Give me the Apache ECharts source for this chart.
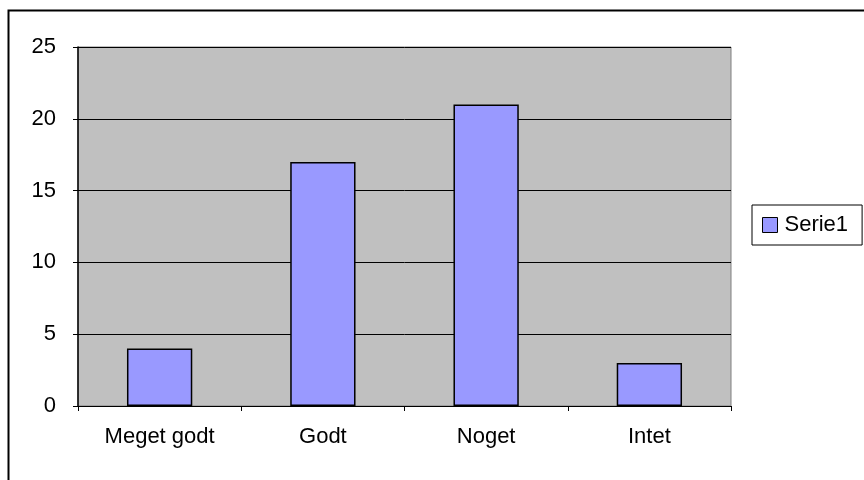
<!DOCTYPE html>
<html>
<head>
<meta charset="utf-8">
<script src="https://cdn.jsdelivr.net/npm/echarts@6/dist/echarts.min.js"></script>
<style>html,body{margin:0;padding:0;background:#fff}#c{width:864px;height:480px}</style>
</head>
<body>
<div id="c"></div>
<script>
const categories = ['Meget godt', 'Godt', 'Noget', 'Intet'];
const serieName = 'Serie1';
const serie1 = [4, 17, 21, 3];
const yTicks = [0, 5, 10, 15, 20, 25];

const chart = echarts.init(document.getElementById('c'));
const font = 'Liberation Sans, Arial, sans-serif';
chart.setOption({
  animation: false,
  backgroundColor: '#ffffff',
  textStyle: { fontFamily: font },
  graphic: [{
    type: 'rect', left: 6, top: 8, z: 100,
    shape: { x: 0, y: 0, width: 900, height: 500 },
    style: { fill: 'none', stroke: '#000', lineWidth: 2 }
  }],
  grid: {
    left: 78, top: 47, right: 133, bottom: 74,
    show: true, backgroundColor: '#c0c0c0', borderColor: '#808080', borderWidth: 1
  },
  legend: {
    data: [serieName],
    left: 752, top: 205,
    orient: 'vertical',
    borderColor: '#000', borderWidth: 1,
    padding: [9, 14, 9, 10],
    itemWidth: 15, itemHeight: 15, itemGap: 0,
    icon: 'rect',
    textStyle: { fontFamily: font, fontSize: 22, color: '#000', padding: [0, 0, 0, 2] },
    itemStyle: { borderColor: '#000', borderWidth: 1 }
  },
  xAxis: {
    type: 'category',
    data: categories,
    axisLine: { lineStyle: { color: '#000', width: 1 } },
    axisTick: { show: true, length: 5, alignWithLabel: false, lineStyle: { color: '#000' } },
    axisLabel: { color: '#000', fontSize: 22, fontFamily: font, margin: 20 },
    splitLine: { show: false }
  },
  yAxis: {
    type: 'value',
    min: yTicks[0], max: yTicks[yTicks.length - 1], interval: 5,
    axisLine: { show: true, lineStyle: { color: '#000', width: 1.5 } },
    axisTick: { show: true, length: 5, lineStyle: { color: '#000' } },
    axisLabel: { color: '#000', fontSize: 22, fontFamily: font, margin: 22 },
    splitLine: { show: true, lineStyle: { color: '#000', width: 1 } }
  },
  series: [{
    name: serieName,
    type: 'bar',
    data: serie1,
    barWidth: '40%',
    itemStyle: { color: '#9999ff', borderColor: '#000', borderWidth: 1.5 }
  }]
});
</script>
</body>
</html>
